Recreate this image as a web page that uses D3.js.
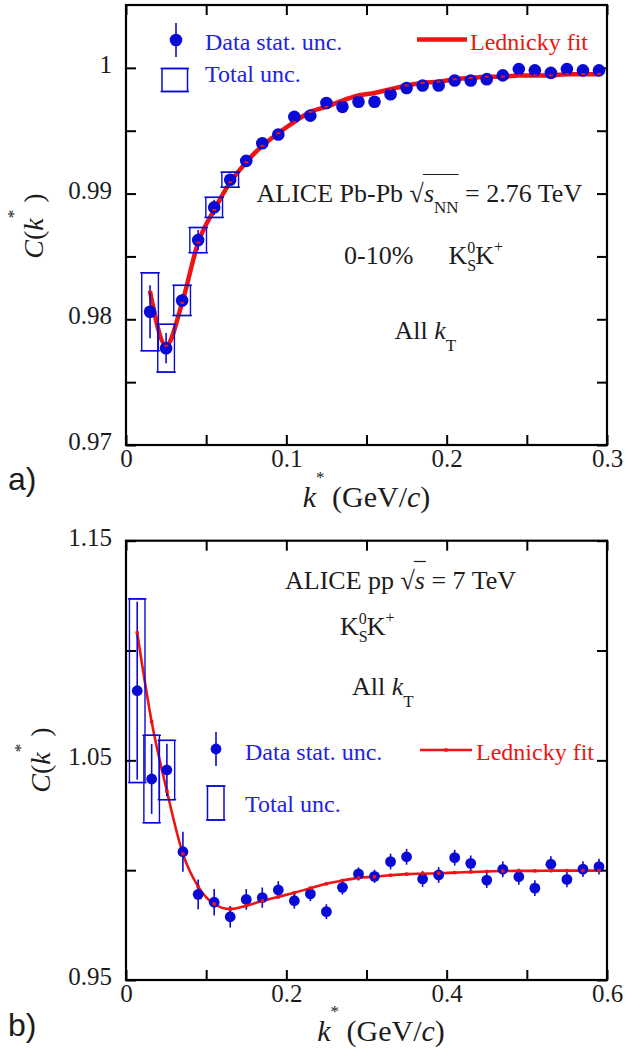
<!DOCTYPE html>
<html>
<head>
<meta charset="utf-8">
<script src="https://cdn.jsdelivr.net/npm/d3@7"></script>
<style>
  body { margin: 0; background: #fff; }
  svg text { font-family: "Liberation Serif", "Times New Roman", serif; }
</style>
</head>
<body>
<svg id="chart" width="640" height="1051"></svg>
<script>
// ---- panel a) Pb-Pb 0-10%
const kTop = [0.015, 0.025, 0.035, 0.045, 0.055, 0.065, 0.075, 0.085, 0.095, 0.105,
  0.115, 0.125, 0.135, 0.145, 0.155, 0.165, 0.175, 0.185, 0.195, 0.205,
  0.215, 0.225, 0.235, 0.245, 0.255, 0.265, 0.275, 0.285, 0.295];
const cTop = [0.9806, 0.9777, 0.9815, 0.9863, 0.9889, 0.9911, 0.9926, 0.9940, 0.9947, 0.9961,
  0.9962, 0.9972, 0.9969, 0.9973, 0.9973, 0.9979, 0.9984, 0.9986, 0.9986, 0.9990,
  0.9990, 0.9991, 0.9994, 0.9999, 0.9998, 0.9996, 0.9999, 0.9998, 0.9998];
const statTop = [0.0021, 0.0012, 0.0005, 0.0008, 0.0006, 0.0004, 0.0003, 0.0003, 0.0003, 0.0003,
  0.0003, 0.0003, 0.0003, 0.0003, 0.0003, 0.0003, 0.0003, 0.0003, 0.0003, 0.0003,
  0.0003, 0.0003, 0.0003, 0.0003, 0.0003, 0.0003, 0.0003, 0.0003, 0.0003];
const totTop = [0.0031, 0.0019, 0.0012, 0.0010, 0.0008, 0.0006];
const fitTop = [0.9822, 0.9779, 0.9813, 0.9861, 0.9887, 0.9909, 0.9925, 0.9938, 0.9948, 0.9957,
  0.9965, 0.9969, 0.9974, 0.9978, 0.9980, 0.9983, 0.9986, 0.9988, 0.9989, 0.9991,
  0.9992, 0.9993, 0.9993, 0.9994, 0.9994, 0.9994, 0.9995, 0.9995, 0.9995];
const xTicksTop = [0, 0.05, 0.1, 0.15, 0.2, 0.25, 0.3];
const xLabelsTop = ["0", "0.1", "0.2", "0.3"];
const yTicksTop = [0.97, 0.975, 0.98, 0.985, 0.99, 0.995, 1.0];
const yLabelsTop = ["0.97", "0.98", "0.99", "1"];

// ---- panel b) pp 7 TeV
const kBot = [0.014, 0.032, 0.051, 0.071, 0.09, 0.11, 0.13, 0.15, 0.17, 0.19,
  0.21, 0.23, 0.25, 0.27, 0.29, 0.31, 0.33, 0.35, 0.37, 0.39,
  0.41, 0.43, 0.45, 0.47, 0.49, 0.51, 0.53, 0.55, 0.57, 0.59];
const cBot = [1.0817, 1.0415, 1.0456, 1.0084, 0.9890, 0.9854, 0.9788, 0.9867, 0.9875, 0.9910,
  0.9861, 0.9892, 0.9811, 0.9922, 0.9983, 0.9972, 1.0039, 1.0061, 0.9960, 0.9978,
  1.0057, 1.0031, 0.9955, 1.0004, 0.9970, 0.9918, 1.0027, 0.9958, 1.0005, 1.0016];
const statBot = [0.0405, 0.0159, 0.0120, 0.0091, 0.0068, 0.0060, 0.0049, 0.0047, 0.0046, 0.0040,
  0.0036, 0.0033, 0.0034, 0.0033, 0.0030, 0.0030, 0.0036, 0.0036, 0.0036, 0.0036,
  0.0036, 0.0036, 0.0036, 0.0036, 0.0036, 0.0036, 0.0036, 0.0036, 0.0036, 0.0036];
const totBot = [0.0418, 0.0199, 0.0135];
const fitBot = [1.1080, 1.0676, 1.0360, 1.0074, 0.9925, 0.9846, 0.9823, 0.9838, 0.9860, 0.9879,
  0.9897, 0.9918, 0.9938, 0.9953, 0.9965, 0.9970, 0.9977, 0.9982, 0.9984, 0.9986,
  0.9989, 0.9992, 0.9994, 0.9996, 0.9997, 0.9997, 0.9998, 0.9998, 0.9998, 0.9998];
const xTicksBot = [0, 0.1, 0.2, 0.3, 0.4, 0.5, 0.6];
const xLabelsBot = ["0", "0.2", "0.4", "0.6"];
const yTicksBot = [0.95, 1.0, 1.05, 1.1, 1.15];
const yLabelsBot = ["0.95", "1.05", "1.15"];

const BLUE = "#0a0ad6", BLUE_TXT = "#2222e6", RED = "#ee1414", INK = "#1c1c1c";
const svg = d3.select("#chart");

const fmt = v => String(+v.toFixed(3));

// mixed text with super/subscripts: sh > 0 raises, sh < 0 lowers
function rich(g, x, y, parts, size, fill, anchor) {
  const t = g.append("text").attr("x", x).attr("y", y)
    .attr("font-size", size).attr("fill", fill).attr("text-anchor", anchor || "start");
  let cur = 0;
  parts.forEach(p => {
    const sh = p.sh || 0;
    t.append("tspan")
      .attr("dx", p.dx || null)
      .attr("dy", cur - sh)
      .attr("font-style", p.i ? "italic" : null)
      .attr("font-size", p.fs || null)
      .text(p.t);
    cur = sh;
  });
  return t;
}

// open box with little caps sticking out at the corners
function capBox(g, x0, x1, y0, y1, w) {
  g.append("rect").attr("x", x0).attr("y", y0).attr("width", x1 - x0).attr("height", y1 - y0)
    .attr("fill", "none").attr("stroke", BLUE).attr("stroke-width", w);
  [y0, y1].forEach(yy => g.append("line").attr("x1", x0 - 1.5).attr("x2", x1 + 1.5)
    .attr("y1", yy).attr("y2", yy).attr("stroke", BLUE).attr("stroke-width", w));
}

function panel(o) {
  const x = d3.scaleLinear().domain(o.xDom).range([126, 607]);
  const y = d3.scaleLinear().domain(o.yDom).range([o.bottom, o.top]);
  const g = svg.append("g");

  // axes with inward ticks
  const xl = new Set(o.xLabels), yl = new Set(o.yLabels);
  g.append("g").attr("transform", `translate(0,${o.bottom})`)
    .call(d3.axisBottom(x).tickValues(o.xTicks).tickSize(-10).tickPadding(4)
      .tickFormat(v => xl.has(fmt(v)) ? fmt(v) : ""));
  g.append("g").attr("transform", `translate(0,${o.top})`)
    .call(d3.axisTop(x).tickValues(o.xTicks).tickSize(-10).tickFormat(""));
  const ay = g.append("g").attr("transform", "translate(126,0)")
    .call(d3.axisLeft(y).tickValues(o.yTicks).tickSize(-10).tickPadding(14)
      .tickFormat(v => yl.has(fmt(v)) ? fmt(v) : ""));
  g.append("g").attr("transform", "translate(607,0)")
    .call(d3.axisRight(y).tickValues(o.yTicks).tickSize(-10).tickFormat(""));
  g.selectAll(".domain").remove();
  g.selectAll(".tick line").attr("stroke", "#000").attr("stroke-width", 2);
  g.selectAll(".tick text").attr("font-size", 25).attr("fill", INK);
  ay.selectAll(".tick text").attr("dy", "0.18em");

  g.append("rect").attr("x", 126).attr("y", o.top)
    .attr("width", 481).attr("height", o.bottom - o.top)
    .attr("fill", "none").attr("stroke", "#000").attr("stroke-width", 2.2);

  const pts = o.k.map((k, i) => ({ k, c: o.c[i], s: o.stat[i], t: o.tot[i], f: o.fit[i] }));

  // fit curve
  g.append("path").datum(pts)
    .attr("d", d3.line().x(d => x(d.k)).y(d => y(d.f)).curve(d3.curveMonotoneX))
    .attr("fill", "none").attr("stroke", RED).attr("stroke-width", o.fitW)
    .attr("stroke-linejoin", "round");

  // total uncertainty boxes
  pts.filter(d => d.t != null).forEach(d =>
    capBox(g, x(d.k - o.boxHalf), x(d.k + o.boxHalf), y(d.c + d.t), y(d.c - d.t), 1.4));

  // stat bars
  g.selectAll(null).data(pts).join("line")
    .attr("x1", d => x(d.k)).attr("x2", d => x(d.k))
    .attr("y1", d => y(d.c - d.s)).attr("y2", d => y(d.c + d.s))
    .attr("stroke", BLUE).attr("stroke-width", 1.6);

  g.selectAll(null).data(pts).join("circle")
    .attr("cx", d => x(d.k)).attr("cy", d => y(d.c)).attr("r", o.r)
    .attr("fill", BLUE);

  // fit markers on the bins
  g.selectAll(null).data(pts).join("rect")
    .attr("x", d => x(d.k) - o.mw / 2).attr("y", d => y(d.f) - o.mh / 2)
    .attr("width", o.mw).attr("height", o.mh).attr("fill", RED);

  return { g, x, y };
}

// ---------- a)
const A = panel({
  xDom: [0, 0.3], yDom: [0.97, 1.005], top: 5, bottom: 445,
  xTicks: xTicksTop, xLabels: xLabelsTop, yTicks: yTicksTop, yLabels: yLabelsTop,
  k: kTop, c: cTop, stat: statTop, tot: totTop, fit: fitTop,
  boxHalf: 0.0052, r: 6.3, fitW: 4.5, mw: 4, mh: 2
});

// ---------- b)
const B = panel({
  xDom: [0, 0.6], yDom: [0.95, 1.15], top: 540.7, bottom: 980,
  xTicks: xTicksBot, xLabels: xLabelsBot, yTicks: yTicksBot, yLabels: yLabelsBot,
  k: kBot, c: cBot, stat: statBot, tot: totBot, fit: fitBot,
  boxHalf: 0.0097, r: 5.4, fitW: 2.6, mw: 3.4, mh: 3.4
});

// ---------- legends
function legend(g, o) {
  g.append("line").attr("x1", o.dx).attr("x2", o.dx).attr("y1", o.dy - o.bar).attr("y2", o.dy + o.bar)
    .attr("stroke", BLUE).attr("stroke-width", 1.6);
  g.append("circle").attr("cx", o.dx).attr("cy", o.dy).attr("r", o.r).attr("fill", BLUE);
  g.append("text").attr("x", o.tx).attr("y", o.ty1).attr("font-size", 24).attr("fill", BLUE_TXT)
    .text("Data stat. unc.");
  capBox(g, o.box[0], o.box[0] + o.box[2], o.box[1], o.box[1] + o.box[3], 1.5);
  g.append("text").attr("x", o.tx).attr("y", o.ty2).attr("font-size", 24).attr("fill", BLUE_TXT)
    .text("Total unc.");
  g.append("line").attr("x1", o.fl[0]).attr("x2", o.fl[1]).attr("y1", o.fl[2]).attr("y2", o.fl[2])
    .attr("stroke", RED).attr("stroke-width", o.fw);
  if (o.fm) g.append("rect").attr("x", (o.fl[0] + o.fl[1]) / 2 - 1.7).attr("y", o.fl[2] - 1.7)
    .attr("width", 3.4).attr("height", 3.4).attr("fill", RED);
  g.append("text").attr("x", o.fx).attr("y", o.ty1).attr("font-size", 24).attr("fill", RED)
    .text("Lednicky fit");
}

legend(A.g, { dx: 176, dy: 40, bar: 17, r: 6.3, tx: 205, ty1: 50, ty2: 82,
  box: [162, 68.5, 25.5, 23], fl: [417, 467, 39.5], fw: 4.5, fx: 470 });
legend(B.g, { dx: 216, dy: 749, bar: 17, r: 5.4, tx: 245, ty1: 760, ty2: 812,
  box: [207.5, 786, 16.5, 34], fl: [420, 472, 750], fw: 2.6, fm: true, fx: 476 });

// ---------- annotations
// a)
const tA = rich(A.g, 256.5, 201.5, [
  { t: "ALICE Pb-Pb \u221A" }, { t: "s", i: true }, { t: "NN", sh: -11, fs: 17 }, { t: " = 2.76 TeV" }
], 26, INK);
{
  const n0 = "ALICE Pb-Pb \u221A".length;
  const e1 = tA.node().getExtentOfChar(n0), e2 = tA.node().getExtentOfChar(n0 + 2);
  A.g.append("line").attr("x1", e1.x - 1).attr("x2", e2.x + e2.width)
    .attr("y1", 174.5).attr("y2", 174.5).attr("stroke", INK).attr("stroke-width", 1.2);
}
A.g.append("text").attr("x", 344).attr("y", 263.5).attr("font-size", 26).attr("fill", INK).text("0-10%");
rich(A.g, 448.5, 263.5, [
  { t: "K" }, { t: "S", sh: -7, fs: 16 }, { t: "0", sh: 11, fs: 16, dx: -9 }, { t: "K" }, { t: "+", sh: 12, fs: 16 }
], 26, INK);
rich(A.g, 394.5, 339, [{ t: "All " }, { t: "k", i: true }, { t: "T", sh: -12, fs: 17 }], 26, INK);

// b)
const tB = rich(B.g, 285, 588.5, [
  { t: "ALICE pp \u221A" }, { t: "s", i: true }, { t: " = 7 TeV" }
], 26, INK);
{
  const n0 = "ALICE pp \u221A".length;
  const e1 = tB.node().getExtentOfChar(n0);
  B.g.append("line").attr("x1", e1.x - 1).attr("x2", e1.x + e1.width + 1)
    .attr("y1", 561.5).attr("y2", 561.5).attr("stroke", INK).attr("stroke-width", 1.2);
}
rich(B.g, 340, 635, [
  { t: "K" }, { t: "S", sh: -7, fs: 16 }, { t: "0", sh: 11, fs: 16, dx: -9 }, { t: "K" }, { t: "+", sh: 12, fs: 16 }
], 26, INK);
rich(B.g, 352, 695, [{ t: "All " }, { t: "k", i: true }, { t: "T", sh: -12, fs: 17 }], 26, INK);

// ---------- axis titles
function xTitle(cx, y) {
  rich(svg, cx, y, [
    { t: "k", i: true }, { t: "*", sh: 24, fs: 17 }, { t: " (GeV/" }, { t: "c", i: true }, { t: ")" }
  ], 30, INK, "middle");
}
xTitle(366.5, 507);
xTitle(381, 1041);

function yTitle(bx, cy) {
  const g = svg.append("g").attr("transform", `translate(${bx},${cy}) rotate(-90)`);
  rich(g, 0, 0, [
    { t: "C", i: true }, { t: "(" }, { t: "k", i: true }, { t: "*", sh: 24, fs: 17 }, { t: " )" }
  ], 28, INK, "middle");
}
yTitle(43, 226);
yTitle(50, 760);

svg.append("text").attr("x", 8).attr("y", 490).attr("font-size", 32)
  .style("font-family", "'Liberation Sans', Arial, sans-serif").attr("fill", INK).text("a)");
svg.append("text").attr("x", 8).attr("y", 1036).attr("font-size", 32)
  .style("font-family", "'Liberation Sans', Arial, sans-serif").attr("fill", INK).text("b)");
</script>
</body>
</html>
